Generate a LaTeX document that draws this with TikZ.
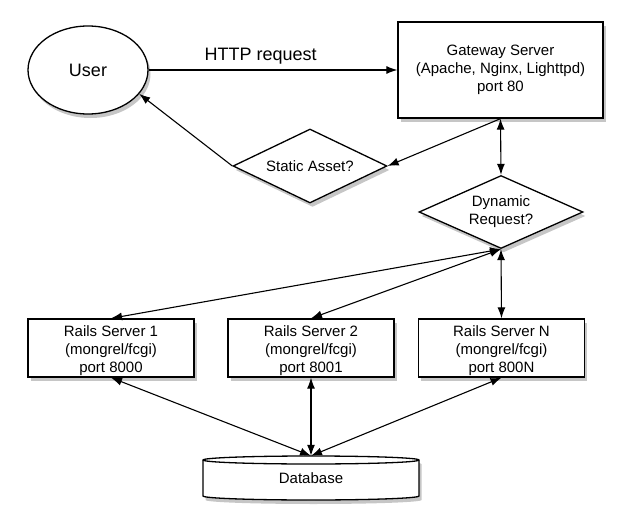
\documentclass[tikz,border=0pt]{standalone}
\usepackage{fontspec}
\setmainfont{Liberation Sans}
\usetikzlibrary{shapes.geometric,shadows,arrows.meta}
\tikzset{
  shd/.style={drop shadow={shadow xshift=2.5pt,shadow yshift=-4pt,opacity=.45}},
  blk/.style={draw,fill=white,line width=1.3pt,shd,align=center,inner sep=1pt,font=\fontsize{15}{18}\selectfont},
  srv/.style={blk,rectangle},
  dia/.style={blk,diamond},
  lnk/.style={line width=1.1pt,-{Latex[length=11pt,width=8pt]}},
  dlnk/.style={line width=1.1pt,{Latex[length=11pt,width=8pt]}-{Latex[length=11pt,width=8pt]}}
}
\begin{document}
\begin{tikzpicture}[x=1pt,y=1pt]
\pgfmathsetmacro{\bw}{166}
\pgfmathsetmacro{\bh}{58}
\useasboundingbox (0,0) rectangle (630,-522);
\node[blk,ellipse,minimum width=120,minimum height=88,font=\fontsize{18}{22}\selectfont] (us) at (88,-70) {User};
\node[srv,minimum width=205,minimum height=96] (gw) at (500.5,-70) {Gateway Server\\(Apache, Nginx, Lighttpd)\\port 80};
\node[dia,aspect=2.1,minimum width=154,minimum height=74] (sa) at (310,-166) {Static Asset?};
\node[dia,aspect=2.25,minimum width=164,minimum height=73] (dr) at (501,-212) {Dynamic\\Request?};
\node[srv,minimum width=\bw,minimum height=\bh,text height=52pt] (r1) at (111,-348) {Rails Server 1\\(mongrel/fcgi)\\port 8000};
\node[srv,minimum width=\bw,minimum height=\bh,text height=52pt] (r2) at (311,-348) {Rails Server 2\\(mongrel/fcgi)\\port 8001};
\node[srv,minimum width=\bw,minimum height=\bh,text height=52pt] (rn) at (501.5,-348) {Rails Server N\\(mongrel/fcgi)\\port 800N};
\draw[line width=1.3pt,fill=white,shd] (203,-460)--(203,-496) arc (180:360:108 and 4)--(419,-460) arc (0:180:108 and 4)--cycle;
\draw[line width=1.3pt] (203,-460) arc (180:360:108 and 4);
\node[minimum width=216,minimum height=44,font=\fontsize{15}{18}\selectfont] (db) at (311,-478) {Database};
\draw[lnk] (us)--node[above=2pt,pos=.45,font=\fontsize{18}{22}\selectfont](http){HTTP request}(gw);
\draw[lnk] (gw.south)--(sa.east);
\draw[lnk] (sa.west)--(us.-25);
\draw[dlnk] (gw.south)--(dr.north);
\foreach \r in {r1,r2,rn}{
\draw[dlnk] (dr.south)--(\r.north);
\draw[dlnk] (\r.south)--(db.north);
}
\end{tikzpicture}
\end{document}
